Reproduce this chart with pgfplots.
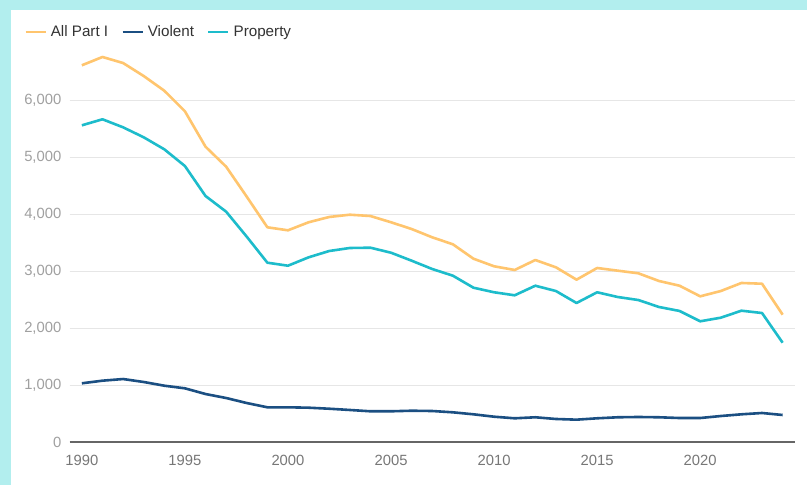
\documentclass[border=0pt]{standalone}
\usepackage{pgfplots}
\pgfplotsset{compat=1.18}
\usepackage{fontspec}
\setmainfont{Liberation Sans}
\definecolor{borderc}{HTML}{B2EEEE}
\definecolor{allc}{HTML}{FFC56E}
\definecolor{violc}{HTML}{1B4F82}
\definecolor{propc}{HTML}{1DBCCB}
\definecolor{gridc}{HTML}{E6E6E6}
\definecolor{ylab}{HTML}{A0A0A0}
\definecolor{xlab}{HTML}{777777}
\definecolor{axc}{HTML}{666666}
\begin{document}
\begin{tikzpicture}
\fill[borderc] (0,0) rectangle (807pt,485pt);
\fill[white] (11pt,0) rectangle (807pt,475pt);
\begin{axis}[
  at={(69.5pt,42.7pt)}, anchor=south west,
  scale only axis, width=725.5pt, height=399pt,
  xmin=1989.4, xmax=2024.6, ymin=0, ymax=7000,
  xtick={1990,1995,...,2020}, ytick={0,1000,...,6000},
  axis x line*=bottom, axis y line*=left,
  x axis line style={draw=axc, line width=2pt},
  y axis line style={draw=none},
  major tick length=0pt,
  ymajorgrids, grid style={draw=gridc, line width=1.2pt},
  /pgf/number format/.cd, 1000 sep={,}, assume math mode=true,
  /pgfplots/.cd,
  xticklabel={\pgfmathprintnumber[1000 sep={}]{\tick}},
  yticklabel style={inner sep=0pt, xshift=-8pt, text=ylab, font=\fontsize{14.8}{16}\selectfont},
  xticklabel style={inner sep=0pt, yshift=-12.5pt, text=xlab, font=\fontsize{14.8}{16}\selectfont},
  legend columns=3,
  legend style={draw=none, fill=none, at={(axis description cs:0,1)}, anchor=west,
    xshift=-45.5pt, yshift=11.3pt, inner sep=0pt, font=\fontsize{15.2}{17}\selectfont, text=black!80,
    /tikz/every even column/.append style={column sep=11pt},
    /tikz/every odd column/.append style={column sep=2pt}},
  legend image code/.code={\draw[#1] (0pt,0pt) -- (20pt,0pt);},
  every axis plot/.append style={line width=2.6pt, line join=round},
]
\addplot[allc] coordinates {
(1990,6614)(1991,6760)(1992,6654)(1993,6426)(1994,6168)(1995,5807)(1996,5186)(1997,4835)(1998,4309)(1999,3772)
(2000,3719)(2001,3860)(2002,3953)(2003,3993)(2004,3970)(2005,3860)(2006,3742)(2007,3596)(2008,3474)(2009,3221)
(2010,3088)(2011,3023)(2012,3198)(2013,3070)(2014,2853)(2015,3058)(2016,3011)(2017,2965)(2018,2830)(2019,2747)
(2020,2561)(2021,2654)(2022,2795)(2023,2782)(2024,2239)};
\addlegendentry{All Part I}
\addplot[violc] coordinates {
(1990,1035)(1991,1081)(1992,1110)(1993,1058)(1994,993)(1995,947)(1996,847)(1997,777)(1998,689)(1999,614)
(2000,614)(2001,607)(2002,589)(2003,567)(2004,544)(2005,544)(2006,554)(2007,549)(2008,526)(2009,491)
(2010,449)(2011,421)(2012,439)(2013,409)(2014,397)(2015,421)(2016,439)(2017,444)(2018,439)(2019,426)
(2020,426)(2021,461)(2022,491)(2023,514)(2024,479)};
\addlegendentry{Violent}
\addplot[propc] coordinates {
(1990,5561)(1991,5667)(1992,5526)(1993,5351)(1994,5140)(1995,4847)(1996,4321)(1997,4046)(1998,3607)(1999,3151)
(2000,3098)(2001,3245)(2002,3356)(2003,3409)(2004,3414)(2005,3326)(2006,3186)(2007,3040)(2008,2923)(2009,2712)
(2010,2632)(2011,2579)(2012,2747)(2013,2654)(2014,2444)(2015,2632)(2016,2549)(2017,2496)(2018,2374)(2019,2304)
(2020,2123)(2021,2186)(2022,2309)(2023,2268)(2024,1747)};
\addlegendentry{Property}
\end{axis}
\end{tikzpicture}
\end{document}
